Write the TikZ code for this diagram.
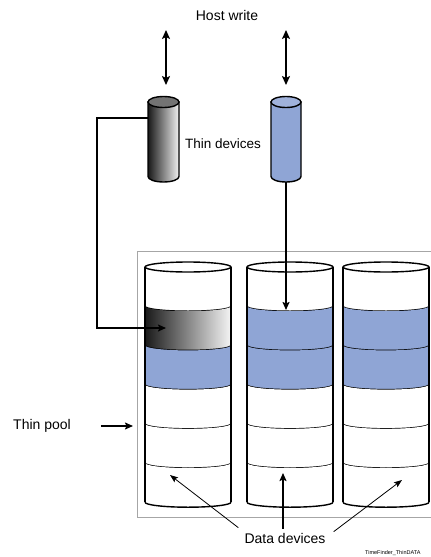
\documentclass[tikz,border=0pt]{standalone}
\usepackage{fontspec}
\setmainfont{Liberation Sans}
\usetikzlibrary{arrows.meta, positioning, calc}
\definecolor{poolblue}{RGB}{143,165,213}

\begin{document}
\begin{tikzpicture}[
    x=1pt, y=-1pt,
    textlbl/.style={font=\fontsize{14}{16}\selectfont, inner sep=0pt},
    hostarrow/.style={{Stealth[length=9pt,width=8pt,inset=2pt]}-{Stealth[length=9pt,width=8pt,inset=2pt]}, line width=1.8pt},
    link/.style={-{Stealth[length=8pt,width=7pt,inset=1.5pt]}, line width=1.6pt},
    thinlink/.style={-{Stealth[length=8pt,width=6pt,inset=1.5pt]}, line width=0.8pt},
    rim/.style={line width=1.4pt},
    wall/.style={line width=1.8pt},
    dwhite/.style={fill=white},
    dblue/.style={fill=poolblue},
    dgrad/.style={left color=black!90, right color=black!4},
    poolbox/.style={draw=black!35, line width=1.3pt, minimum width=310pt, minimum height=266pt, anchor=north west}
]
\useasboundingbox (0,0) rectangle (431,557);

% pool frame
\node[poolbox] (pool) at (137,251) {};

% data devices
\foreach \cx/\fl [count=\c] in {188/{dwhite,dgrad,dblue,dwhite,dwhite,dwhite},
                                290/{dwhite,dblue,dblue,dwhite,dwhite,dwhite},
                                386/{dwhite,dblue,dblue,dwhite,dwhite,dwhite}} {
  \foreach \f [count=\k] in \fl {
    \pgfmathsetmacro\ya{267+39.2*(\k-1)}
    \pgfmathsetmacro\yb{267+39.2*\k}
    \path[\f] (\cx-43,\ya) arc[start angle=180, end angle=0, x radius=43, y radius=5]
      -- (\cx+43,\yb) arc[start angle=0, end angle=180, x radius=43, y radius=5] -- cycle;
    \draw[rim] (\cx-43,\yb) arc[start angle=180, end angle=0, x radius=43, y radius=5];
  }
  \draw[rim, fill=white] (\cx,267) ellipse[x radius=43, y radius=5];
  \draw[wall] (\cx-43,267) -- (\cx-43,502.2);
  \draw[wall] (\cx+43,267) -- (\cx+43,502.2);
}

% thin devices
\draw[rim, left color=black!90, right color=black!5] (148,102) -- (148,176.5)
  arc[start angle=180, end angle=0, x radius=15.5, y radius=5.5] -- (179,102) -- cycle;
\draw[rim, fill=black!55] (163.5,102) ellipse[x radius=15.5, y radius=5.5];
\draw[rim, fill=poolblue] (271,102) -- (271,176.5)
  arc[start angle=180, end angle=0, x radius=15, y radius=5.5] -- (301,102) -- cycle;
\draw[rim, fill=poolblue!85!white] (286,102) ellipse[x radius=15, y radius=5.5];

\coordinate (hostA) at (166,30);
\coordinate (thinA-lid) at (166,85);
\coordinate (hostB) at (286,30);
\coordinate (thinB-lid) at (286,85);
\coordinate (thinA-side) at (148,118);
\coordinate (thinB-base) at (286,182);
\coordinate (hit1) at (166,328);
\coordinate (hit2) at (286,310);
\coordinate (tip1) at (170,475);
\coordinate (tip2) at (283,473);
\coordinate (tip3) at (402,480);

% labels
\node[textlbl] (host) at (227,15) {Host write};
\node[textlbl, font=\fontsize{13.5}{16}\selectfont] (thinlbl) at (223,144) {Thin devices};
\node[textlbl] (poollbl) at (42,426) {Thin pool};
\node[textlbl] (ddlbl) at (285,538) {Data devices};
\node[anchor=west, inner sep=0pt, font=\fontsize{5.5}{6}\selectfont] (figid) at (365,553) {TimeFinder\_ThinDATA};

% connectors
\draw[hostarrow] (hostA) -- (thinA-lid);
\draw[hostarrow] (hostB) -- (thinB-lid);
\draw[link] (thinA-side) -- ++(-51,0) |- (hit1);
\draw[link] (thinB-base) -- (hit2);
\draw[link, line width=1.5pt, shorten >=4pt] ([xshift=30pt]poollbl.east) -- (pool.west |- poollbl.east);
\draw[thinlink] ($(ddlbl.north west)+(-6,-5)$) -- (tip1);
\draw[link, line width=2pt] ($(ddlbl.north)+(-2,-4)$) -- (tip2);
\draw[thinlink] ($(ddlbl.north east)+(8,-1)$) -- (tip3);

\end{tikzpicture}
\end{document}
